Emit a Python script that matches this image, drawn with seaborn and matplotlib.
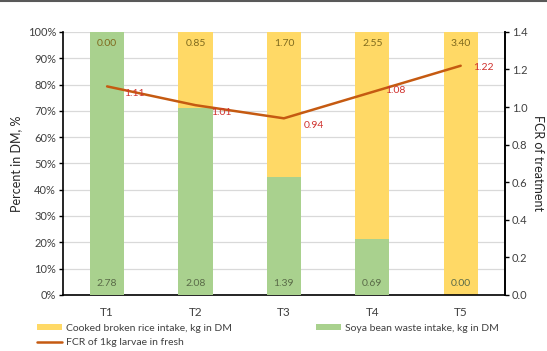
import matplotlib
matplotlib.use("Agg")
import matplotlib.pyplot as plt
import seaborn as sns
import pandas as pd
from matplotlib.patches import Patch
from matplotlib.lines import Line2D

# Treatments and intakes (kg dry matter)
treatments = ["T1", "T2", "T3", "T4", "T5"]
rice_kg = [0.00, 0.85, 1.70, 2.55, 3.40]
soya_kg = [2.78, 2.08, 1.39, 0.69, 0.00]
fcr = [1.11, 1.01, 0.94, 1.08, 1.22]

# label nudges for the FCR values (points)
fcr_label_offsets = [(12, -5), (11, -5), (14, -5), (9, 1), (9, -1)]

sns.set_theme(style="white")
plt.rcParams["font.family"] = ["Lato", "DejaVu Sans"]

YELLOW = "#FFD966"
GREEN = "#A9D18E"
ORANGE = "#C55A11"

df = pd.DataFrame({"treatment": treatments, "rice": rice_kg, "soya": soya_kg, "fcr": fcr})
df["total"] = df["rice"] + df["soya"]
df["soya_pct"] = df["soya"] / df["total"] * 100
df["full_pct"] = 100.0

fig = plt.figure(figsize=(5.47, 3.51), dpi=100)
ax = fig.add_axes([0.115, 0.160, 0.808, 0.749])

# stacked 100% bars: rice on top of soya
sns.barplot(data=df, x="treatment", y="full_pct", color=YELLOW, width=0.385,
            saturation=1, ax=ax, zorder=2, linewidth=0)
sns.barplot(data=df, x="treatment", y="soya_pct", color=GREEN, width=0.385,
            saturation=1, ax=ax, zorder=3, linewidth=0)

ax.set_ylim(0, 100)
ax.set_xlim(-0.5, len(treatments) - 0.5)
ax.set_yticks(range(0, 101, 10))
ax.set_yticklabels([f"{v}%" for v in range(0, 101, 10)])
ax.yaxis.grid(True, color="#D9D9D9", linewidth=0.9)
ax.set_axisbelow(True)
ax.set_xlabel("")
ax.set_ylabel("Percent in DM, %", fontsize=9, color="#262626", labelpad=4)
ax.tick_params(axis="y", which="major", direction="out", length=3, width=1,
               color="black", labelsize=8, labelcolor="#404040", pad=2, left=True)
ax.tick_params(axis="x", length=0, labelsize=8.5, labelcolor="#404040", pad=9)

ax.spines["top"].set_visible(False)
for s in ["left", "bottom", "right"]:
    ax.spines[s].set_color("black")
    ax.spines[s].set_linewidth(1.2)

# intake labels
for i, row in df.iterrows():
    ax.text(i, 95.5, f"{row['rice']:.2f}", ha="center", va="center",
            fontsize=7.5, color="#7F6A1E", zorder=5)
    ax.text(i, 4.5, f"{row['soya']:.2f}", ha="center", va="center",
            fontsize=7.5, color="#5A6B48", zorder=5)

# FCR line on secondary axis
ax2 = ax.twinx()
sns.lineplot(data=df, x="treatment", y="fcr", color=ORANGE, linewidth=1.8,
             ax=ax2, zorder=6, sort=False)
ax2.set_ylim(0, 1.4)
ax2.set_yticks([0.0, 0.2, 0.4, 0.6, 0.8, 1.0, 1.2, 1.4])
ax2.set_yticklabels([f"{v:.1f}" for v in [0.0, 0.2, 0.4, 0.6, 0.8, 1.0, 1.2, 1.4]])
ax2.set_ylabel("FCR of treatment", fontsize=9, color="#262626", rotation=270,
               labelpad=12)
ax2.tick_params(axis="y", direction="out", length=3, width=1, color="black",
                labelsize=8, labelcolor="#404040", pad=2, right=True)
ax2.grid(False)
for s in ["top", "left", "bottom"]:
    ax2.spines[s].set_visible(False)
ax2.spines["right"].set_color("black")
ax2.spines["right"].set_linewidth(1.2)

for i, (v, off) in enumerate(zip(fcr, fcr_label_offsets)):
    ax2.annotate(f"{v:.2f}", xy=(i, v), xytext=off, textcoords="offset points",
                 ha="left", va="center", fontsize=7.5, color="#D0312D", zorder=7)

# legend below the axes
handles = [
    Patch(facecolor=YELLOW, edgecolor="none", label="Cooked broken rice intake, kg in DM"),
    Line2D([0], [0], color=ORANGE, linewidth=1.8, label="FCR of 1kg larvae in fresh"),
    Patch(facecolor=GREEN, edgecolor="none", label="Soya bean waste intake, kg in DM"),
]
fig.legend(handles=handles, ncol=2, loc="upper left", bbox_to_anchor=(0.068, 0.078),
           frameon=False, fontsize=7.5, handlelength=2.4, handleheight=0.5,
           handletextpad=0.4, columnspacing=8.0, labelspacing=0.55,
           borderaxespad=0, borderpad=0, labelcolor="#404040")

# thin rule along the top edge
fig.add_artist(Line2D([0, 1], [0.997, 0.997], transform=fig.transFigure,
                      color="#595959", linewidth=1.5))

fig.savefig("out.png", dpi=100)
